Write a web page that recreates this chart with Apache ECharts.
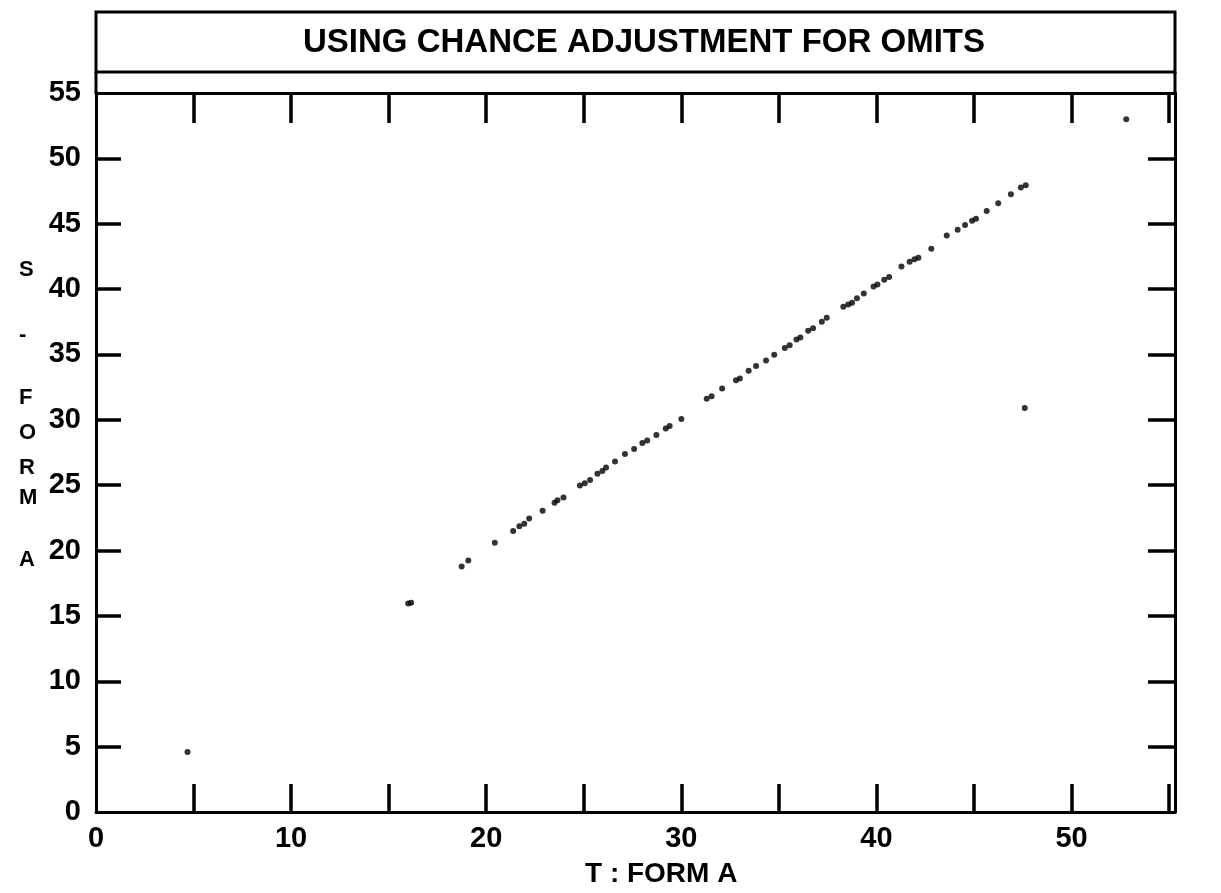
<!DOCTYPE html>
<html>
<head>
<meta charset="utf-8">
<script src="https://cdn.jsdelivr.net/npm/echarts@6/dist/echarts.min.js"></script>
<style>
  html, body { margin: 0; padding: 0; background: #ffffff; }
  #chart { width: 1221px; height: 893px; }
</style>
</head>
<body>
<div id="chart"></div>
<script>
// Chart texts
const titleText = 'USING CHANCE ADJUSTMENT FOR OMITS';
const xAxisTitle = 'T : FORM A';
const yAxisTitleLetters = ['S', '-', 'F', 'O', 'R', 'M', 'A'];

// Axis ticks and labels
const xLabelValues = [0, 10, 20, 30, 40, 50];
const xTickValues = [5, 10, 15, 20, 25, 30, 35, 40, 45, 50, 55];
const yLabelValues = [0, 5, 10, 15, 20, 25, 30, 35, 40, 45, 50, 55];
const yTickValues = [5, 10, 15, 20, 25, 30, 35, 40, 45, 50];

// Scores: T (Form A) against S (Form A)
const scoreT = [
  4.69, 16.0, 16.15, 18.74, 19.08, 20.44, 21.38, 21.7, 21.95, 22.2,
  22.89, 23.5, 23.65, 23.96, 24.8, 25.05, 25.32, 25.7, 25.95, 26.14,
  26.6, 27.11, 27.58, 28.0, 28.25, 28.72, 29.2, 29.4, 30.0, 31.3,
  31.55, 32.09, 32.8, 33.0, 33.45, 33.83, 34.34, 34.76, 35.3, 35.55,
  35.9, 36.1, 36.5, 36.75, 37.2, 37.45, 38.3, 38.55, 38.75, 39.0,
  39.35, 39.85, 40.05, 40.4, 40.65, 41.28, 41.7, 41.95, 42.15, 42.81,
  43.6, 44.16, 44.54, 44.9, 45.1, 45.65, 46.24, 46.89, 47.4, 47.65,
  47.6, 52.8
];
const scoreS = [
  4.59, 15.95, 16.0, 18.77, 19.23, 20.6, 21.5, 21.85, 22.05, 22.46,
  23.04, 23.65, 23.85, 24.06, 24.98, 25.15, 25.4, 25.88, 26.08, 26.36,
  26.82, 27.39, 27.77, 28.22, 28.42, 28.84, 29.34, 29.53, 30.07, 31.62,
  31.8, 32.4, 33.02, 33.16, 33.76, 34.12, 34.53, 34.97, 35.5, 35.7,
  36.15, 36.3, 36.82, 37.0, 37.5, 37.8, 38.65, 38.82, 38.95, 39.3,
  39.67, 40.2, 40.35, 40.72, 40.92, 41.72, 42.1, 42.28, 42.4, 43.08,
  44.09, 44.53, 44.91, 45.22, 45.38, 45.98, 46.57, 47.26, 47.78, 47.95,
  30.9, 53.0
];

const points = scoreT.map((t, i) => [t, scoreS[i]]);

const FONT = '"Liberation Sans", Arial, sans-serif';
const INK = '#000000';

const chart = echarts.init(document.getElementById('chart'), null, { renderer: 'canvas' });

const frameLine = { show: true, onZero: false, lineStyle: { color: INK, width: 3 } };

function tickStyle(len, values) {
  return {
    show: true, inside: true, length: len, customValues: values,
    lineStyle: { color: INK, width: 3.5 }
  };
}

const labelStyle = {
  color: INK, fontFamily: FONT, fontSize: 29, fontWeight: 'bold'
};

// Vertical stack of letters naming the S axis
const yNamePositions = [270, 335, 398, 433, 468, 498, 560];
const yNameGraphics = yAxisTitleLetters.map((ch, i) => ({
  type: 'text', left: 28 - 9, top: yNamePositions[i] - 11, z: 10,
  style: { text: ch, fill: INK, font: 'bold 22px ' + FONT, align: 'center' }
}));

chart.setOption({
  animation: false,
  backgroundColor: '#ffffff',
  grid: { left: 96, right: 46, top: 93, bottom: 81, containLabel: false },
  xAxis: [
    {
      type: 'value', position: 'bottom', min: 0, max: 55.3,
      axisLine: frameLine,
      axisTick: tickStyle(28, xTickValues),
      axisLabel: { ...labelStyle, margin: 12, customValues: xLabelValues },
      splitLine: { show: false }
    },
    {
      type: 'value', position: 'top', min: 0, max: 55.3,
      axisLine: frameLine,
      axisTick: tickStyle(30, xTickValues),
      axisLabel: { show: false },
      splitLine: { show: false }
    }
  ],
  yAxis: [
    {
      type: 'value', position: 'left', min: 0, max: 55,
      axisLine: frameLine,
      axisTick: tickStyle(25, yTickValues),
      axisLabel: { ...labelStyle, margin: 15, customValues: yLabelValues },
      splitLine: { show: false }
    },
    {
      type: 'value', position: 'right', min: 0, max: 55,
      axisLine: frameLine,
      axisTick: tickStyle(27, yTickValues),
      axisLabel: { show: false },
      splitLine: { show: false }
    }
  ],
  series: [
    {
      type: 'scatter',
      xAxisIndex: 0, yAxisIndex: 0,
      data: points,
      symbol: 'circle',
      symbolSize: 6,
      itemStyle: { color: INK },
      silent: true
    }
  ],
  graphic: [
    // Title box above the plot frame
    {
      type: 'rect', z: 10,
      shape: { x: 96, y: 12, width: 1079, height: 60 },
      style: { fill: 'none', stroke: INK, lineWidth: 3 }
    },
    {
      type: 'line', z: 10,
      shape: { x1: 96, y1: 72, x2: 96, y2: 93 },
      style: { stroke: INK, lineWidth: 3 }
    },
    {
      type: 'line', z: 10,
      shape: { x1: 1175, y1: 72, x2: 1175, y2: 93 },
      style: { stroke: INK, lineWidth: 3 }
    },
    {
      type: 'text', z: 10, left: 303, top: 26,
      style: { text: titleText, fill: INK, font: 'bold 33px ' + FONT }
    },
    {
      type: 'text', z: 10, left: 585, top: 860,
      style: { text: xAxisTitle, fill: INK, font: 'bold 28px ' + FONT }
    },
    ...yNameGraphics
  ]
});
</script>
</body>
</html>
